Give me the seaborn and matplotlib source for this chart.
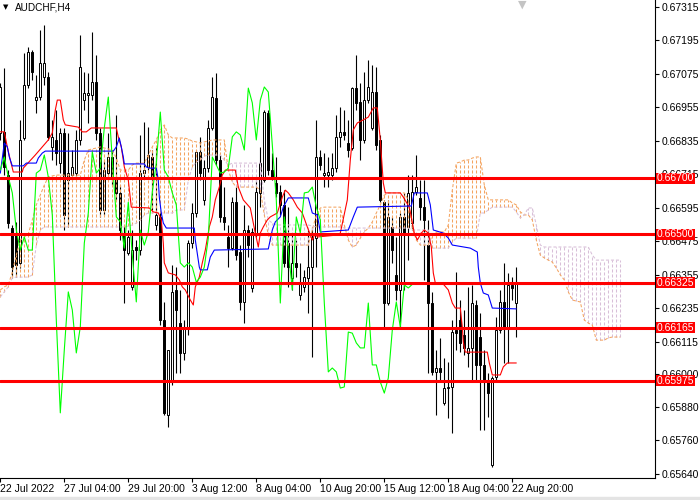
import numpy as np
import matplotlib
matplotlib.use("Agg")
import matplotlib.pyplot as plt
from matplotlib.patches import Rectangle
import seaborn as sns

# AUDCHF H4 candles with Ichimoku
symbol = "AUDCHF,H4"

bar_open = [
    0.66863, 0.66867, 0.66712, 0.66522, 0.66504, 0.66397, 0.66845, 0.67035, 0.67153, 0.66981,
    0.66992, 0.67064, 0.67064, 0.66813, 0.66838, 0.66755, 0.66863, 0.66694, 0.66712, 0.66719,
    0.66838, 0.66981, 0.66999, 0.66999, 0.67046, 0.66863, 0.66587, 0.66719, 0.66777, 0.66705,
    0.66648, 0.66504, 0.66433, 0.66311, 0.66454, 0.66443, 0.66719, 0.66741, 0.66777, 0.66533,
    0.66562, 0.66192, 0.65851, 0.65977, 0.66300, 0.66181, 0.66074, 0.66167, 0.66468, 0.66576,
    0.66795, 0.66623, 0.66737, 0.66881, 0.66988, 0.66766, 0.66562, 0.66490, 0.66450, 0.66615,
    0.66436, 0.66257, 0.66515, 0.66307, 0.66504, 0.66648, 0.66694, 0.66935, 0.66730, 0.66684,
    0.66651, 0.66605, 0.66468, 0.66343, 0.66397, 0.66282, 0.66310, 0.66343, 0.66382, 0.66486,
    0.66777, 0.66712, 0.66712, 0.66712, 0.66737, 0.66849, 0.66867, 0.66827, 0.66809, 0.67024,
    0.66974, 0.66838, 0.66981, 0.66881, 0.67010, 0.66838, 0.66615, 0.66253, 0.66526, 0.66354,
    0.66300, 0.66562, 0.66526, 0.66540, 0.66651, 0.66630, 0.66597, 0.66461, 0.66253, 0.66006,
    0.66020, 0.65894, 0.65948, 0.65952, 0.66156, 0.66192, 0.66138, 0.66074, 0.66092, 0.66246,
    0.66131, 0.66031, 0.65970, 0.65672, 0.65988, 0.66156, 0.66257, 0.66163, 0.66318, 0.66253,
]
bar_high = [
    0.67042, 0.67096, 0.66730, 0.66533, 0.66544, 0.66910, 0.67150, 0.67171, 0.67161, 0.67071,
    0.67232, 0.67250, 0.67082, 0.66910, 0.66945, 0.66881, 0.66881, 0.66863, 0.66802, 0.66874,
    0.67214, 0.67082, 0.67078, 0.67225, 0.67143, 0.66881, 0.66766, 0.66863, 0.66802, 0.66928,
    0.66676, 0.66533, 0.66515, 0.66515, 0.66479, 0.66856, 0.66902, 0.66884, 0.66802, 0.66813,
    0.66580, 0.66257, 0.66085, 0.66389, 0.66382, 0.66300, 0.66192, 0.66479, 0.66612, 0.66802,
    0.66849, 0.66766, 0.66910, 0.67064, 0.67078, 0.66784, 0.66669, 0.66533, 0.66633, 0.66669,
    0.66461, 0.66605, 0.66533, 0.66522, 0.66694, 0.66813, 0.66945, 0.66945, 0.66791, 0.66777,
    0.66676, 0.66658, 0.66597, 0.66504, 0.66479, 0.66397, 0.66372, 0.66515, 0.66526, 0.66910,
    0.66802, 0.66791, 0.66777, 0.66791, 0.66928, 0.66956, 0.66945, 0.66910, 0.67028, 0.67143,
    0.67042, 0.67082, 0.67125, 0.67107, 0.67100, 0.66856, 0.66623, 0.66623, 0.66562, 0.66490,
    0.66576, 0.66648, 0.66712, 0.66712, 0.66784, 0.66694, 0.66694, 0.66551, 0.66293, 0.66085,
    0.66128, 0.66056, 0.66041, 0.66192, 0.66364, 0.66264, 0.66228, 0.66311, 0.66318, 0.66264,
    0.66217, 0.66085, 0.66002, 0.65991, 0.66203, 0.66300, 0.66397, 0.66361, 0.66346, 0.66382,
]
bar_low = [
    0.66838, 0.66712, 0.66522, 0.66343, 0.66346, 0.66379, 0.66838, 0.67024, 0.67053, 0.66935,
    0.66981, 0.67035, 0.66838, 0.66766, 0.66748, 0.66719, 0.66515, 0.66526, 0.66694, 0.66702,
    0.66820, 0.66945, 0.66899, 0.66981, 0.66838, 0.66562, 0.66569, 0.66694, 0.66676, 0.66623,
    0.66479, 0.66253, 0.66425, 0.66300, 0.66407, 0.66425, 0.66702, 0.66730, 0.66587, 0.66515,
    0.66174, 0.65851, 0.65808, 0.65959, 0.66002, 0.66002, 0.66049, 0.66138, 0.66450, 0.66562,
    0.66694, 0.66605, 0.66723, 0.66874, 0.66748, 0.66544, 0.66515, 0.66382, 0.66443, 0.66407,
    0.66228, 0.66181, 0.66418, 0.66293, 0.66490, 0.66598, 0.66687, 0.66712, 0.66694, 0.66633,
    0.66569, 0.66382, 0.66310, 0.66300, 0.66346, 0.66264, 0.66293, 0.66217, 0.66059, 0.66382,
    0.66730, 0.66669, 0.66669, 0.66694, 0.66723, 0.66813, 0.66838, 0.66777, 0.66802, 0.66945,
    0.66766, 0.66827, 0.66971, 0.66874, 0.66802, 0.66615, 0.66167, 0.66246, 0.66397, 0.66264,
    0.66167, 0.66300, 0.66407, 0.66515, 0.66640, 0.66551, 0.66336, 0.66002, 0.65995, 0.65851,
    0.65977, 0.65887, 0.65841, 0.65787, 0.66085, 0.66077, 0.66067, 0.66024, 0.65977, 0.65977,
    0.65798, 0.65798, 0.65844, 0.65665, 0.65977, 0.66145, 0.66038, 0.66038, 0.66264, 0.66131,
]
bar_close = [
    0.67028, 0.66741, 0.66540, 0.66382, 0.66389, 0.66838, 0.67035, 0.67153, 0.67082, 0.66992,
    0.67114, 0.67114, 0.66849, 0.66849, 0.66791, 0.66863, 0.66569, 0.66719, 0.66741, 0.66838,
    0.67100, 0.67006, 0.67006, 0.67046, 0.66863, 0.66587, 0.66730, 0.66777, 0.66705, 0.66648,
    0.66515, 0.66443, 0.66490, 0.66443, 0.66443, 0.66719, 0.66730, 0.66784, 0.66705, 0.66569,
    0.66192, 0.65859, 0.66085, 0.66293, 0.66228, 0.66074, 0.66167, 0.66468, 0.66576, 0.66795,
    0.66719, 0.66737, 0.66881, 0.66992, 0.66766, 0.66562, 0.66544, 0.66450, 0.66615, 0.66425,
    0.66257, 0.66515, 0.66461, 0.66508, 0.66651, 0.66755, 0.66938, 0.66730, 0.66705, 0.66648,
    0.66605, 0.66397, 0.66382, 0.66397, 0.66382, 0.66328, 0.66346, 0.66382, 0.66486, 0.66777,
    0.66748, 0.66719, 0.66723, 0.66737, 0.66849, 0.66867, 0.66856, 0.66802, 0.67024, 0.66971,
    0.66838, 0.66981, 0.67028, 0.67010, 0.66820, 0.66623, 0.66253, 0.66562, 0.66443, 0.66300,
    0.66562, 0.66504, 0.66648, 0.66651, 0.66669, 0.66597, 0.66551, 0.66253, 0.66006, 0.66020,
    0.66006, 0.65948, 0.65952, 0.66149, 0.66145, 0.66110, 0.66092, 0.66092, 0.66253, 0.66031,
    0.66031, 0.65970, 0.65930, 0.65984, 0.66156, 0.66257, 0.66167, 0.66318, 0.66307, 0.66320,
]

# Tenkan-sen (red) and Kijun-sen (blue), vertices at bar positions
tenkan_bar = [0, 1, 1.75, 2.5, 3.25, 5.5, 5.75, 8.75, 12, 13, 13.75, 14.25, 15, 15.75, 16.25,
              19.5, 20.5, 21.5, 22.75, 29, 29.5, 30.25, 31, 32, 32.75, 37.25, 38.25, 39.5,
              40.25, 40.75, 41, 42, 43.75, 44.75, 45.5, 46.25, 47.5, 48.25, 48.75, 49.75,
              50.5, 51.25, 52.25, 53, 53.75, 54.75, 55.5, 56.25, 58.75, 59.5, 60.75, 62.5,
              63.75, 64.5, 65, 65.75, 66.75, 67.5, 69.25, 70.5, 71.25, 72, 73.25, 74.25,
              75.5, 76.75, 78, 78.75, 79.25, 84.25, 85, 86.75, 87.5, 88.25, 89.25, 90.75,
              92, 93.25, 94.25, 95, 95.75, 96.25, 100, 100.75, 102.25, 102.75, 103.5, 104.25,
              105.25, 106, 107, 107.75, 108.25, 108.75, 110.75, 112, 113, 113.75, 115, 115.5,
              115.75, 116.25, 121.75, 122.25, 123, 125, 125.75, 126.75, 129]
tenkan_val = [0.66867, 0.66867, 0.66813, 0.66766, 0.66723, 0.66723, 0.66737, 0.66784, 0.66838,
              0.66863, 0.66945, 0.66981, 0.66981, 0.66910, 0.66892, 0.66884, 0.66867, 0.66867,
              0.66881, 0.66881, 0.66849, 0.66813, 0.66741, 0.66694, 0.66597, 0.66594, 0.66580,
              0.66576, 0.66551, 0.66468, 0.66397, 0.66361, 0.66354, 0.66336, 0.66311, 0.66300,
              0.66264, 0.66246, 0.66311, 0.66346, 0.66397, 0.66443, 0.66526, 0.66562, 0.66623,
              0.66669, 0.66712, 0.66730, 0.66730, 0.66669, 0.66623, 0.66594, 0.66504, 0.66454,
              0.66504, 0.66526, 0.66551, 0.66562, 0.66576, 0.66633, 0.66658, 0.66648, 0.66623,
              0.66597, 0.66576, 0.66526, 0.66479, 0.66504, 0.66490, 0.66497, 0.66504, 0.66623,
              0.66766, 0.66874, 0.66899, 0.66910, 0.66920, 0.66953, 0.66953, 0.66838, 0.66684,
              0.66648, 0.66648, 0.66633, 0.66597, 0.66562, 0.66504, 0.66479, 0.66504, 0.66515,
              0.66504, 0.66454, 0.66361, 0.66325, 0.66321, 0.66300, 0.66253, 0.66235, 0.66235,
              0.66167, 0.66113, 0.66077, 0.66077, 0.66038, 0.65995, 0.65995, 0.66024, 0.66038,
              0.66038]
kijun_bar = [0, 1, 1.75, 2.25, 3, 5.75, 6.5, 9, 9.5, 10.5, 11.25, 28.25, 29, 29.75, 30.25,
             30.75, 31, 36, 36.5, 37.25, 39, 39.5, 39.75, 40.25, 40.75, 41.5, 48.5, 48.75,
             49.75, 50, 51.75, 52.5, 53.5, 67, 68, 68.75, 70, 70.75, 72, 77, 78, 79.25, 80,
             87, 88.25, 89.25, 102.75, 103.5, 106.75, 107.5, 108.25, 110.75, 112, 113, 117.5,
             119.25, 119.5, 120, 120.75, 122, 123, 129]
kijun_val = [0.66719, 0.66827, 0.66813, 0.66777, 0.66745, 0.66745, 0.66755, 0.66755, 0.66773,
             0.66791, 0.66798, 0.66798, 0.66813, 0.66845, 0.66813, 0.66777, 0.66752, 0.66752,
             0.66741, 0.66737, 0.66737, 0.66694, 0.66633, 0.66576, 0.66540, 0.66522, 0.66522,
             0.66479, 0.66382, 0.66372, 0.66372, 0.66418, 0.66443, 0.66447, 0.66515, 0.66544,
             0.66562, 0.66597, 0.66630, 0.66630, 0.66576, 0.66569, 0.66508, 0.66515, 0.66562,
             0.66597, 0.66601, 0.66648, 0.66648, 0.66605, 0.66515, 0.66504, 0.66486, 0.66461,
             0.66450, 0.66436, 0.66382, 0.66325, 0.66289, 0.66282, 0.66235, 0.66232]

# Senkou span A / B, one value per bar (cloud runs 26 bars past the last candle)
span_a = [
    0.66300, 0.66311, 0.66318, 0.66364, 0.66425, 0.66479, 0.66490, 0.66501, 0.66551, 0.66605,
    0.66640, 0.66676, 0.66705, 0.66709, 0.66712, 0.66712, 0.66712, 0.66712, 0.66712, 0.66712,
    0.66712, 0.66766, 0.66802, 0.66806, 0.66809, 0.66813, 0.66809, 0.66806, 0.66802, 0.66773,
    0.66730, 0.66730, 0.66730, 0.66748, 0.66755, 0.66755, 0.66755, 0.66784, 0.66813, 0.66838,
    0.66874, 0.66892, 0.66856, 0.66845, 0.66845, 0.66845, 0.66845, 0.66841, 0.66834, 0.66831,
    0.66827, 0.66831, 0.66834, 0.66838, 0.66838, 0.66838, 0.66838, 0.66730, 0.66687, 0.66669,
    0.66669, 0.66669, 0.66669, 0.66669, 0.66669, 0.66658, 0.66569, 0.66497, 0.66461, 0.66461,
    0.66461, 0.66461, 0.66461, 0.66461, 0.66461, 0.66461, 0.66461, 0.66461, 0.66515, 0.66569,
    0.66594, 0.66597, 0.66597, 0.66597, 0.66597, 0.66597, 0.66533, 0.66479, 0.66454, 0.66461,
    0.66486, 0.66508, 0.66522, 0.66544, 0.66576, 0.66605, 0.66640, 0.66648, 0.66648, 0.66648,
    0.66648, 0.66648, 0.66623, 0.66522, 0.66479, 0.66461, 0.66461, 0.66461, 0.66497, 0.66508,
    0.66508, 0.66508, 0.66533, 0.66658, 0.66755, 0.66759, 0.66766, 0.66766, 0.66773, 0.66777,
    0.66777, 0.66676, 0.66623, 0.66623, 0.66623, 0.66623, 0.66623, 0.66623, 0.66612, 0.66605,
    0.66580, 0.66569, 0.66569, 0.66551, 0.66479, 0.66425, 0.66415, 0.66407, 0.66400, 0.66379,
    0.66354, 0.66336, 0.66293, 0.66264, 0.66260, 0.66257, 0.66192, 0.66181, 0.66174, 0.66120,
    0.66120, 0.66120, 0.66128, 0.66131, 0.66131, 0.66131,
]
span_b = [
    0.66275, 0.66293, 0.66311, 0.66343, 0.66346, 0.66346, 0.66346, 0.66346, 0.66354, 0.66461,
    0.66515, 0.66526, 0.66526, 0.66526, 0.66526, 0.66526, 0.66526, 0.66526, 0.66526, 0.66526,
    0.66526, 0.66526, 0.66526, 0.66526, 0.66526, 0.66526, 0.66526, 0.66526, 0.66526, 0.66526,
    0.66526, 0.66526, 0.66529, 0.66533, 0.66540, 0.66551, 0.66569, 0.66576, 0.66576, 0.66576,
    0.66576, 0.66576, 0.66576, 0.66576, 0.66587, 0.66587, 0.66587, 0.66694, 0.66741, 0.66759,
    0.66766, 0.66780, 0.66784, 0.66784, 0.66784, 0.66784, 0.66766, 0.66748, 0.66755, 0.66755,
    0.66755, 0.66755, 0.66755, 0.66755, 0.66755, 0.66755, 0.66623, 0.66551, 0.66540, 0.66533,
    0.66533, 0.66533, 0.66533, 0.66533, 0.66533, 0.66533, 0.66533, 0.66533, 0.66529, 0.66526,
    0.66526, 0.66526, 0.66526, 0.66526, 0.66526, 0.66526, 0.66522, 0.66522, 0.66522, 0.66522,
    0.66522, 0.66522, 0.66522, 0.66522, 0.66522, 0.66522, 0.66522, 0.66522, 0.66522, 0.66522,
    0.66522, 0.66522, 0.66522, 0.66515, 0.66515, 0.66515, 0.66515, 0.66515, 0.66450, 0.66450,
    0.66450, 0.66450, 0.66450, 0.66472, 0.66486, 0.66486, 0.66486, 0.66486, 0.66486, 0.66486,
    0.66576, 0.66576, 0.66587, 0.66597, 0.66597, 0.66597, 0.66597, 0.66597, 0.66597, 0.66580,
    0.66558, 0.66569, 0.66594, 0.66594, 0.66533, 0.66461, 0.66454, 0.66454, 0.66454, 0.66454,
    0.66454, 0.66454, 0.66454, 0.66454, 0.66454, 0.66454, 0.66454, 0.66454, 0.66425, 0.66407,
    0.66407, 0.66407, 0.66407, 0.66407, 0.66407, 0.66407,
]
chikou_shift = 26

levels = [0.66700, 0.66500, 0.66325, 0.66165, 0.65975]
price_ticks = [0.67315, 0.67195, 0.67075, 0.66955, 0.66835, 0.66715, 0.66595, 0.66475,
               0.66355, 0.66235, 0.66115, 0.66000, 0.65880, 0.65760, 0.65640]
time_tick_bars = [0, 16, 32, 48, 64, 80, 96, 112, 128]
time_labels = ["22 Jul 2022", "27 Jul 04:00", "29 Jul 20:00", "3 Aug 12:00", "8 Aug 04:00",
               "10 Aug 20:00", "15 Aug 12:00", "18 Aug 04:00", "22 Aug 20:00"]

sns.set_theme(style="white")
plt.rcParams["font.family"] = ["Liberation Sans", "DejaVu Sans"]
plt.rcParams["lines.scale_dashes"] = False

fig = plt.figure(figsize=(7, 5), dpi=100)
fig.patch.set_facecolor("white")
ax = fig.add_axes([0, 22 / 500, 655 / 700, 478 / 500])
ax.set_facecolor("white")

o = np.array(bar_open)
h = np.array(bar_high)
l = np.array(bar_low)
c = np.array(bar_close)
bars = np.arange(len(c))
up = c >= o

# candles
ax.vlines(bars, l, h, color="black", lw=0.8, zorder=2)
ax.bar(bars[up], (c - o)[up], bottom=o[up], width=0.55, color="white",
       edgecolor="black", linewidth=0.7, zorder=2.5)
ax.bar(bars[~up], (o - c)[~up], bottom=c[~up], width=0.55, color="black",
       edgecolor="black", linewidth=0.7, zorder=2.5)

# cloud, hatched with dotted verticals like MT4
a = np.array(span_a)
b = np.array(span_b)
cb = np.arange(len(a))
hatch_cols = np.where(a >= b, "sandybrown", "thistle")
dots = (0, (2.2, 1.4))
ax.vlines(cb, np.minimum(a, b), np.maximum(a, b), colors=hatch_cols,
          linestyles=[dots], lw=0.75, zorder=3)
ax.plot(cb, a, color="sandybrown", ls=dots, lw=0.75, zorder=3)
ax.plot(cb, b, color="thistle", ls=dots, lw=0.75, zorder=3)

# bid line
ax.axhline(c[-1], color="#C0C0C0", lw=0.8, zorder=1.5)

sns.lineplot(x=tenkan_bar, y=tenkan_val, color="red", linewidth=0.8,
             estimator=None, sort=False, ax=ax, zorder=4)
sns.lineplot(x=kijun_bar, y=kijun_val, color="blue", linewidth=0.8,
             estimator=None, sort=False, ax=ax, zorder=4)
sns.lineplot(x=bars[chikou_shift:] - chikou_shift, y=c[chikou_shift:], color="lime",
             linewidth=0.8, estimator=None, sort=False, ax=ax, zorder=4)

for lv in levels:
    ax.axhline(lv, color="red", lw=2.2, zorder=5)
    ax.text(1.003, lv, f"{lv:.5f}", transform=ax.get_yaxis_transform(), ha="left",
            va="center", color="white", fontsize=7.5, clip_on=False, zorder=10,
            bbox=dict(boxstyle="square,pad=0.05", fc="red", ec="none"))

ax.set_xlim(-0.075, 163.675)
ax.set_ylim(0.656254, 0.67340)

ax.yaxis.tick_right()
ax.set_yticks(price_ticks)
ax.set_yticklabels([f"{t:.5f}" for t in price_ticks])
ax.set_xticks(time_tick_bars)
ax.set_xticklabels(time_labels, ha="left")
ax.tick_params(axis="y", right=True, left=False, length=3, width=0.8, pad=2,
               labelsize=7.5, colors="black")
ax.tick_params(axis="x", bottom=True, length=3, width=0.8, pad=1,
               labelsize=7.5, colors="black")
for side in ["top", "left"]:
    ax.spines[side].set_visible(False)
for side in ["right", "bottom"]:
    ax.spines[side].set_color("black")
    ax.spines[side].set_linewidth(0.8)
ax.set_xlabel("")
ax.set_ylabel("")
legend = ax.get_legend()
if legend is not None:
    legend.remove()

# header and window decorations
fig.text(6 / 700, 1 - 7 / 500, "\u25bc", fontsize=5, color="black", ha="center",
         va="center", family=["DejaVu Sans"])
fig.text(15 / 700, 1 - 7.5 / 500, symbol, fontsize=7.2, color="black", ha="left",
         va="center")
fig.text(522 / 700, 1 - 5 / 500, "\u25bc", fontsize=8, color="#C4C4C4", ha="center",
         va="center", family=["DejaVu Sans"])
fig.add_artist(Rectangle((0, 0), 1, 3 / 500, transform=fig.transFigure,
                         color="#E4E4E4", zorder=0))

fig.savefig("out.png", dpi=100)
